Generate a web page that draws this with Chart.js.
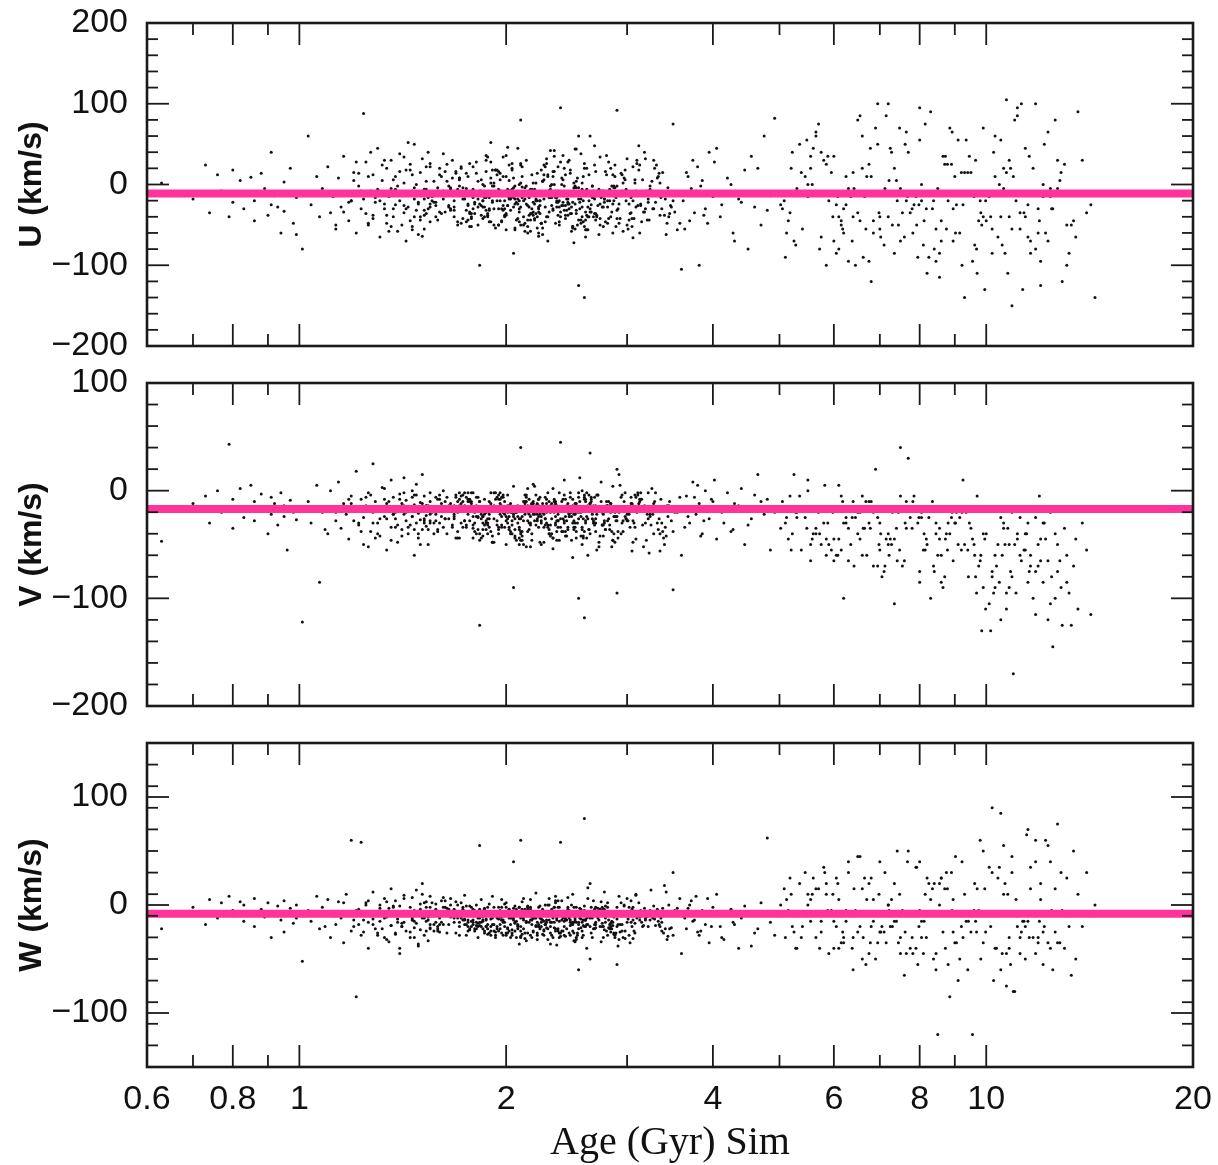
<!DOCTYPE html>
<html>
<head>
<meta charset="utf-8">
<script src="https://cdn.jsdelivr.net/npm/chart.js@4.4.1/dist/chart.umd.min.js"></script>
<style>
  body { margin: 0; background: #fff; }
  #wrap { position: relative; width: 1218px; height: 1165px; }
  .panel { position: absolute; left: 0; width: 1218px; }
</style>
</head>
<body>
<div id="wrap">
  <div class="panel" style="top:0px;height:370px"><canvas id="panelU"></canvas></div>
  <div class="panel" style="top:360px;height:370px"><canvas id="panelV"></canvas></div>
  <div class="panel" style="top:720px;height:445px"><canvas id="panelW"></canvas></div>
</div>
<script>
// stellar ages (Gyr), one entry per star, shared by the three panels
const ages = [
  // younger than 1 Gyr
  0.63,0.70,0.73,0.74,0.76,0.77,0.79,0.80,0.80,0.82,
  0.83,0.83,0.85,0.86,0.86,0.88,0.89,0.90,0.91,0.91,
  0.92,0.93,0.94,0.95,0.95,0.96,0.97,0.98,0.99,0.99,
  // 1 - 1.5 Gyr
  1.01,1.03,1.04,1.06,1.07,1.08,1.10,1.11,1.12,1.13,
  1.14,1.15,1.16,1.17,1.18,1.19,1.20,1.21,1.22,1.23,
  1.24,1.24,1.25,1.26,1.27,1.28,1.28,1.29,1.30,1.31,
  1.31,1.32,1.33,1.34,1.34,1.35,1.36,1.36,1.37,1.38,
  1.38,1.39,1.40,1.40,1.41,1.42,1.42,1.43,1.43,1.44,
  1.45,1.45,1.46,1.46,1.47,1.47,1.48,1.48,1.49,1.49,
  1.50,1.50,1.51,1.51,1.52,1.52,1.53,1.53,1.54,1.54,
  1.18,1.22,1.26,1.30,1.33,1.37,1.41,1.44,1.47,1.52,
  1.20,1.25,1.29,1.32,1.35,1.39,1.42,1.46,1.50,1.53,
  1.16,1.23,1.27,1.31,1.36,1.40,1.43,1.47,1.51,1.55,
  1.09,1.21,1.28,1.33,1.37,1.41,1.45,1.48,1.52,1.55,
  1.13,1.19,1.26,1.34,1.38,1.42,1.46,1.49,1.53,1.55,
  // 1.5 - 3.6 Gyr (dense part)
  1.56,1.72,1.88,2.02,2.15,2.31,2.47,2.66,2.90,3.21,
  1.61,1.79,1.93,2.08,2.24,2.39,2.58,2.78,3.04,3.38,
  1.58,1.75,1.91,2.05,2.19,2.35,2.52,2.71,2.97,3.30,
  1.64,1.82,1.97,2.11,2.27,2.43,2.61,2.84,3.09,3.47,
  1.59,1.77,1.90,2.03,2.17,2.33,2.50,2.69,2.93,3.25,
  1.66,1.84,1.99,2.13,2.29,2.45,2.63,2.87,3.13,3.52,
  1.62,1.80,1.95,2.09,2.22,2.37,2.55,2.75,3.01,3.35,
  1.68,1.86,2.00,2.14,2.30,2.48,2.67,2.91,3.18,3.58,
  1.57,1.74,1.89,2.04,2.20,2.36,2.54,2.73,2.99,3.28,
  1.70,1.87,2.01,2.16,2.32,2.49,2.68,2.95,3.23,3.44,
  1.60,1.78,1.92,2.06,2.21,2.38,2.56,2.77,3.06,3.33,
  1.65,1.83,1.98,2.12,2.26,2.42,2.60,2.82,3.11,3.40,
  1.73,1.89,2.02,2.18,2.34,2.51,2.70,2.92,3.16,3.55,
  1.63,1.81,1.96,2.10,2.25,2.41,2.59,2.80,3.07,3.36,
  1.69,1.85,2.00,2.15,2.28,2.44,2.62,2.85,3.12,3.48,
  1.76,1.91,2.04,2.19,2.36,2.53,2.72,2.96,3.20,3.31,
  1.67,1.82,1.97,2.12,2.27,2.46,2.64,2.88,3.14,3.42,
  1.74,1.90,2.03,2.17,2.33,2.50,2.69,2.89,3.03,3.26,
  1.58,1.78,1.94,2.09,2.23,2.40,2.57,2.79,3.08,3.37,
  1.71,1.86,1.99,2.14,2.31,2.47,2.65,2.86,3.10,3.50,
  1.80,1.93,2.07,2.20,2.35,2.52,2.74,2.98,3.22,3.45,
  1.66,1.84,2.01,2.16,2.29,2.44,2.61,2.81,3.05,3.29,
  1.77,1.92,2.06,2.21,2.37,2.55,2.76,3.00,3.19,3.39,
  1.62,1.79,1.95,2.11,2.26,2.43,2.58,2.74,2.94,3.15,
  1.85,1.98,2.13,2.28,2.42,2.57,2.71,2.83,3.02,3.32,
  1.69,1.87,2.05,2.18,2.32,2.46,2.62,2.78,2.97,3.17,
  1.81,1.96,2.10,2.24,2.39,2.53,2.67,2.90,3.12,3.41,
  1.75,1.88,2.02,2.23,2.38,2.49,2.64,2.84,3.06,3.24,
  1.90,2.00,2.14,2.25,2.40,2.56,2.70,2.87,3.09,3.34,
  1.83,1.97,2.08,2.22,2.34,2.48,2.60,2.76,2.92,3.14,
  1.53,1.68,1.81,1.94,2.07,2.19,2.33,2.46,2.62,2.81,
  1.55,1.71,1.85,1.97,2.10,2.23,2.36,2.50,2.67,2.86,
  1.60,1.73,1.86,2.00,2.12,2.25,2.38,2.53,2.70,2.94,
  1.52,1.66,1.79,1.92,2.05,2.17,2.30,2.44,2.59,2.77,
  1.57,1.70,1.83,1.96,2.09,2.21,2.35,2.49,2.65,2.89,
  1.63,1.76,1.88,2.01,2.14,2.27,2.40,2.55,2.73,3.02,
  1.54,1.69,1.82,1.95,2.08,2.20,2.34,2.48,2.63,2.83,
  1.65,1.78,1.91,2.04,2.16,2.29,2.42,2.57,2.75,3.10,
  1.59,1.72,1.84,1.98,2.11,2.24,2.37,2.51,2.68,2.91,
  1.67,1.80,1.93,2.06,2.18,2.31,2.44,2.60,2.79,3.18,
  1.56,1.70,1.87,1.99,2.13,2.26,2.39,2.54,2.72,2.98,
  1.61,1.75,1.89,2.03,2.15,2.28,2.41,2.56,2.74,3.05,
  1.64,1.77,1.90,2.02,2.17,2.30,2.45,2.58,2.76,3.13,
  1.58,1.74,1.86,2.00,2.12,2.26,2.40,2.53,2.70,2.96,
  1.70,1.82,1.95,2.08,2.20,2.33,2.47,2.62,2.80,3.22,
  1.55,1.68,1.83,1.97,2.10,2.23,2.38,2.52,2.69,2.88,
  1.72,1.85,1.98,2.11,2.23,2.36,2.50,2.64,2.85,3.27,
  1.62,1.76,1.88,2.05,2.18,2.31,2.43,2.57,2.78,3.00,
  1.66,1.79,1.92,2.06,2.19,2.34,2.48,2.63,2.82,3.08,
  1.74,1.87,2.01,2.13,2.25,2.39,2.53,2.68,2.88,3.35,
  1.59,1.73,1.85,1.99,2.14,2.28,2.42,2.59,2.77,3.04,
  1.68,1.81,1.94,2.07,2.21,2.35,2.49,2.66,2.86,3.19,
  1.76,1.89,2.02,2.15,2.27,2.41,2.55,2.71,2.93,3.43,
  1.57,1.71,1.84,1.96,2.09,2.22,2.37,2.51,2.66,2.84,
  1.78,1.91,2.04,2.16,2.29,2.43,2.58,2.74,2.95,3.28,
  1.63,1.77,1.90,2.03,2.17,2.32,2.46,2.61,2.79,3.11,
  1.71,1.84,1.97,2.10,2.24,2.38,2.52,2.69,2.90,3.37,
  1.60,1.75,1.87,2.01,2.15,2.30,2.45,2.60,2.81,3.06,
  1.79,1.93,2.06,2.19,2.32,2.46,2.61,2.77,2.99,3.46,
  1.65,1.80,1.95,2.09,2.22,2.36,2.51,2.65,2.87,3.24,
  2.60,2.55,1.83,2.40,2.90,3.50,2.10,3.60,2.05,2.65,
  // 3.6 - 5 Gyr
  3.62,3.66,3.70,3.74,3.78,3.82,3.86,3.90,3.95,4.00,
  3.64,3.72,3.80,3.88,3.98,4.05,4.12,4.20,4.28,4.36,
  3.68,3.76,3.84,3.93,4.02,4.15,4.30,4.45,4.60,4.75,
  4.10,4.25,4.40,4.55,4.70,4.85,4.92,4.50,4.65,4.80,
  // 5 - 14.5 Gyr
  5.05,5.60,6.10,6.70,7.30,8.00,8.80,9.70,10.8,12.2,
  5.20,5.75,6.30,6.90,7.55,8.25,9.10,10.1,11.3,12.8,
  5.10,5.50,6.00,6.55,7.15,7.85,8.60,9.50,10.5,11.8,
  5.35,5.90,6.45,7.05,7.70,8.45,9.30,10.3,11.5,13.2,
  5.15,5.70,6.20,6.80,7.40,8.10,8.90,9.85,11.0,12.4,
  5.45,6.05,6.60,7.20,7.90,8.65,9.55,10.6,11.9,13.6,
  5.25,5.80,6.35,6.95,7.60,8.35,9.20,10.2,11.4,12.9,
  5.55,6.15,6.75,7.35,8.05,8.85,9.75,10.9,12.1,14.0,
  5.30,5.85,6.40,7.00,7.65,8.40,9.25,10.25,11.6,13.0,
  5.65,6.25,6.85,7.50,8.20,9.00,9.90,11.1,12.5,14.4,
  5.40,5.95,6.50,7.10,7.75,8.50,9.35,10.4,11.7,13.4,
  5.02,6.40,7.25,7.95,8.70,9.60,10.7,11.2,12.0,12.6,
  5.75,6.65,7.45,8.15,8.95,9.80,10.0,10.95,11.8,13.8,
  5.50,6.00,6.60,7.80,8.30,9.15,10.45,11.35,12.3,13.1,
  6.20,6.95,7.65,8.55,9.40,10.15,10.75,11.55,12.7,14.2,
  5.85,6.50,7.20,7.90,8.75,9.65,10.55,11.05,12.15,13.5,
  5.30,6.30,7.00,8.00,9.05,9.95,10.85,11.45,11.95,12.85,
  6.10,6.80,7.50,8.60,9.45,10.35,10.65,11.25,12.45,13.3,
  5.08,5.65,6.15,6.75,7.35,8.05,8.95,9.90,10.9,12.1,
  5.22,5.82,6.38,6.98,7.62,8.38,9.22,10.3,11.4,12.6,
  5.12,5.55,6.05,6.62,7.22,7.92,8.72,9.62,10.7,11.9,
  5.38,5.98,6.55,7.12,7.82,8.55,9.42,10.5,11.6,13.1,
  5.18,5.72,6.25,6.85,7.48,8.18,9.02,9.98,11.1,12.3,
  5.48,6.08,6.68,7.28,7.98,8.78,9.68,10.8,11.8,12.7,
  5.28,5.88,6.42,7.02,7.68,8.45,9.30,10.2,11.2,12.0,
  5.58,6.18,6.78,7.42,8.12,8.92,9.82,10.6,11.5,12.4
];

// U velocity (km/s)
const uVel = [
  2,-18,24,-35,12,-8,-40,18,-22,5,
  -30,-12,9,-45,-20,14,-5,-38,-25,40,
  -14,-28,-60,3,-33,-9,20,-48,-16,-62,

  -80,60,-25,10,-40,-5,22,-35,-15,-55,
  8,-28,35,-10,-45,-20,15,-60,-2,-30,
  88,-18,28,-50,-8,12,-38,-22,45,-12,
  -65,5,-30,20,-48,-15,30,-5,-40,-25,
  10,-58,-20,38,-10,-35,2,-70,18,-28,
  -45,25,-8,-52,-18,50,-32,0,-24,-62,
  15,-40,-12,32,-55,-6,22,-36,-16,40,
  -22,14,-48,-6,30,-30,-12,52,-40,-18,
  5,-36,-16,24,-58,-2,-26,12,-44,-10,
  -34,-8,40,-20,-52,16,-30,-4,-64,26,
  -12,28,-42,-24,6,-50,18,-14,-32,-46,
  -50,-20,10,-38,-6,34,-56,-22,4,-28,

  -15,22,-38,5,-60,-8,30,-25,-2,-44,
  10,-30,-12,45,-20,-50,2,-18,-35,15,
  -40,-5,18,-28,-10,35,-55,-14,8,-22,
  25,-18,-45,-3,12,-32,-65,20,-8,-26,
  -8,-52,28,-16,-36,0,-22,48,-42,-12,
  -30,6,-20,-58,32,-10,-40,-4,24,-34,
  38,-24,-6,-46,14,-28,60,-15,-55,2,
  -20,-40,10,-12,-70,18,-2,-30,40,-48,
  4,-14,-32,26,-24,-48,8,-62,-20,30,
  -50,16,-26,-8,42,-36,-16,12,-44,-4,
  20,-36,-2,-54,-18,22,-30,-10,-66,10,
  -26,-10,34,-40,4,-22,-52,28,-14,-38,
  -4,-46,-18,12,-30,-72,16,-24,6,-56,
  -34,28,-8,-28,-48,8,-20,36,-42,-16,
  14,-20,-56,-14,22,-38,-6,-34,18,-28,
  -44,-2,20,-34,-12,44,-26,-58,-8,24,
  30,-28,-14,-50,6,-18,-40,10,-24,-62,
  -12,52,-32,-6,-26,-52,24,-16,-36,4,
  -22,-42,12,-20,-64,-14,38,-46,2,-30,
  8,-16,-38,30,-8,-30,-12,-60,26,-20,
  -36,18,-10,-44,16,-24,-50,6,-18,-40,
  -6,-26,46,-16,-40,12,-34,-20,-52,20,
  26,-50,-18,2,-22,-44,-8,32,-30,-10,
  -18,-6,-30,22,-54,-2,-28,-42,14,-46,
  -28,10,-48,-12,36,-18,-38,-6,-24,8,
  16,-32,-4,-36,-16,28,-56,-22,-12,-34,
  -10,-20,24,-26,-46,-4,-16,-32,48,-18,
  -32,34,-16,-60,-8,-28,12,-40,-20,-6,
  2,-38,-24,18,-34,-12,-44,-2,-28,14,
  -24,-12,-42,-20,10,-36,20,-14,-48,-26,
  -6,-32,14,-20,-44,2,-16,-38,20,-28,
  -24,8,-42,-12,26,-34,-8,-54,-2,12,
  12,-18,-28,36,-10,-48,-22,4,-36,-14,
  -38,-4,22,-30,-16,-58,10,-26,-46,-8,
  -14,-46,-8,6,-34,-20,42,-12,-30,-52,
  16,-26,-36,-14,-2,24,-40,-18,-6,-44,
  -30,-10,4,-50,-24,-6,-32,14,-56,-20,
  -2,-40,-22,18,-38,-12,6,-48,-16,30,
  -44,20,-14,-26,10,-36,-20,-4,-40,-12,
  8,-22,-54,-2,-30,-16,-42,26,-10,-34,
  -20,-6,30,-40,-18,4,-28,-50,-8,18,
  -36,14,-16,-8,-52,-28,0,-22,34,-42,
  4,-34,-46,24,-12,-40,-18,-6,-28,-60,
  -26,-14,-2,-36,-20,-62,28,-32,-14,2,
  -10,-50,16,-18,-42,-8,-24,-38,12,-22,
  22,-28,-10,-46,2,-30,-14,44,-36,-4,
  -48,0,-32,-16,-28,-10,-52,-20,-2,-30,
  -8,-24,-40,8,-6,-34,20,-44,-18,-50,
  -32,-16,2,-56,-22,16,-12,-28,-42,6,
  -18,36,-26,-4,-48,-20,-36,-8,24,-38,
  -4,-42,-20,-30,-10,-46,-26,10,-52,-16,
  -40,-12,18,-22,-36,0,-58,-14,-24,32,
  10,-30,-8,-44,-18,-26,-4,-40,-12,-48,
  -22,-2,-38,14,-30,-54,-16,2,-34,-10,
  -52,-20,-6,-28,26,-14,-40,-24,-8,-30,
  -14,-36,8,-18,-44,-6,-22,-56,16,-26,
  6,-8,-30,-50,-20,-38,-2,-18,-42,-12,
  -34,-46,-16,-6,-26,12,-32,-10,-48,22,
  -12,18,-24,-38,-2,-24,-44,-28,-6,-36,
  -28,-10,-50,0,-40,-16,-8,-34,-20,-2,
  -140,-125,-100,95,92,75,80,-105,-85,60,

  -20,15,-45,30,-8,-100,5,-30,40,-15,
  -55,-5,22,-38,-12,45,-25,8,-60,-18,
  10,-35,-2,-48,28,-10,-70,18,-28,60,
  -40,0,-22,35,-50,-14,82,-80,20,-32,

  -30,45,-80,10,-50,95,-20,-110,30,-60,
  20,-65,-5,70,-35,-90,55,-15,-130,5,
  -90,0,35,-45,85,-25,-70,15,-40,100,
  50,-20,-100,-10,40,-55,-140,60,-25,-85,
  -45,75,-30,-120,5,-75,25,-50,80,-15,
  10,-85,60,-40,-10,35,-95,-5,-60,90,
  -70,30,-15,100,-65,-30,15,-85,45,-120,
  35,-50,-95,20,-20,70,-45,-150,0,-35,
  -10,-100,15,-55,65,-80,-25,40,-70,25,
  65,-25,-60,-5,-110,10,-40,85,-30,-140,
  -55,15,80,-75,-35,-5,55,-65,20,-45,
  -25,-40,45,-90,25,-15,105,-55,-95,-10,
  40,-15,-50,75,-70,-20,-45,10,-80,30,
  -15,-70,20,-30,90,-60,0,-35,65,-100,
  -60,50,-20,-85,15,-40,-110,35,-5,-25,
  25,-35,100,-15,-55,30,-75,-20,50,-65,
  -5,-95,-40,55,-25,-130,20,-10,-45,15,
  -40,10,-70,-45,35,-10,-85,100,-30,-50,
  -20,60,-45,25,-85,0,-30,70,-55,-15,
  40,-10,-70,-35,50,-20,-100,10,-40,80,
  -60,20,-25,-90,5,-50,35,-75,15,-30,
  15,-40,85,-5,-60,-115,-10,55,-85,-50,
  -35,-80,10,-45,70,-30,-60,-20,95,-70,
  55,-15,-55,40,-25,25,-80,-40,-10,30,
  -75,35,-5,-65,-15,-95,15,-55,-35,-125,
  0,-55,45,-20,-45,65,-35,20,-65,-5
];

// V velocity (km/s)
const vVel = [
  -47,-12,-5,-30,0,-20,43,-8,-35,2,
  -15,-25,5,-10,-28,-3,-18,-40,-22,-6,
  -12,-32,-2,-24,-14,-55,-9,-20,-27,-16,

  -122,-10,-30,5,-85,-20,-40,0,-15,-28,
  8,-35,-12,-22,-45,-5,-18,18,-32,-8,
  -25,-50,-14,-2,-38,-20,25,-10,-30,-16,
  -42,3,-24,-12,-55,-18,10,-34,-6,-26,
  -20,-48,-15,-3,-36,-22,12,-28,-9,-40,
  -17,-32,0,-24,-60,-13,-30,6,-21,-44,
  -11,-27,15,-36,-19,-5,-33,-23,-50,-14,
  -8,-30,-16,-40,2,-22,-12,-34,-4,-26,
  -28,-6,-44,-18,-10,-32,-2,-24,-50,-14,
  -14,-38,-4,-26,-46,-8,-20,-36,-12,-30,
  -36,-18,-30,-8,-22,-42,-16,-4,-28,-10,
  -20,-12,-52,-26,-34,-14,-6,-40,-18,-2,

  -20,-5,-32,-14,2,-40,-18,-10,-28,-22,
  -12,-35,-8,-24,-48,-16,0,-30,-6,-38,
  -28,-15,-42,4,-20,-10,-34,-55,-18,-2,
  -6,-25,-14,-38,-22,10,-30,-12,-45,-16,
  -36,-10,-2,-20,-52,-26,-8,-18,5,-32,
  -16,-44,-22,-4,-30,-14,-60,-24,-10,-20,
  0,-18,-36,-26,-12,-46,-20,8,-28,-40,
  -24,-8,-50,-16,-34,-2,-22,-38,-14,-6,
  -40,-28,-10,-32,4,-24,-16,-48,-26,-12,
  -10,-36,-20,-8,-42,-18,-30,-4,-58,-24,
  -30,-2,-26,-44,-16,-34,12,-22,-14,-36,
  -18,-46,-6,-28,-20,-8,-38,-26,-2,-50,
  -4,-22,-34,-12,-54,-28,-14,15,-32,-20,
  -26,-14,-2,-40,-24,-16,-44,-10,-30,-8,
  -44,-30,-16,-20,-6,-38,-24,-52,-12,-28,
  -8,-18,-40,6,-32,-20,-4,-28,-46,-16,
  -34,-6,-24,-16,-48,-12,-36,-20,-8,-42,
  -14,-38,-12,-30,-18,-62,-6,-24,-34,2,
  -22,-10,-28,-50,-14,-26,-42,-16,-4,-30,
  -2,-32,-18,-10,-36,-22,-12,-46,-20,-38,
  -38,-16,-46,-22,-8,-30,-18,-2,-26,-14,
  -12,-26,-4,-36,-20,-42,-28,-14,-56,-10,
  -28,-48,-20,-14,-38,-6,-32,-22,-16,-44,
  -16,-2,-34,-24,-12,-28,-50,-18,-40,-8,
  -42,-20,-10,-32,-26,-16,-4,-36,-22,-30,
  -6,-30,-22,-46,-14,-34,-18,-28,-10,-52,
  -24,-12,-38,-18,-2,-44,-26,20,-14,-34,
  -32,-40,-16,-8,-28,-20,-36,-12,-48,-22,
  -18,-24,-52,-30,-16,-10,-30,-40,-6,-26,
  -10,-34,-14,-26,-44,-18,-8,-32,-20,-2,
  -14,-26,-6,-32,-20,-10,-40,-18,-2,-28,
  -22,-8,-36,-16,-46,-24,-12,-30,-20,4,
  -4,-34,-18,-28,-10,-50,-22,-14,-38,-6,
  -30,-16,-44,-2,-24,-14,-32,-8,-26,-42,
  -18,-38,-10,-22,-36,-4,-20,-46,-12,-28,
  -10,-22,-30,-14,-6,-34,-16,-26,-52,-20,
  -36,-4,-24,-40,-18,-28,2,-20,-14,-32,
  -26,-12,-48,-20,-30,-8,-38,-24,-10,-16,
  -8,-30,-16,-4,-42,-22,-14,-34,-28,-44,
  -32,-20,-2,-26,-12,-40,-24,-6,-36,-18,
  -16,-44,-28,-10,-22,-16,-46,-30,-4,-24,
  -24,-6,-34,-38,-14,-26,-10,-18,-42,-12,
  -40,-18,-12,-24,-32,-2,-28,-36,-20,-8,
  -6,-28,-22,-16,-50,-20,-34,-12,-26,-38,
  -20,-36,-8,-30,-18,-12,-24,-44,-14,-2,
  -28,-14,-40,-6,-26,-34,-18,-22,-32,-48,
  -12,-24,-20,-46,-8,-30,-14,-4,-38,-22,
  -34,-2,-26,-18,-40,-10,-30,-20,-16,-28,
  -18,-32,-14,-36,-22,-44,-6,-26,-10,-34,
  -2,-20,-30,-12,-28,-18,-38,-14,-24,-56,
  -38,-10,-24,-34,-4,-26,-16,-42,-20,-12,
  -22,-40,-6,-20,-32,-14,-24,-8,-46,-30,
  -10,-26,-36,-28,-16,-38,-2,-22,-18,-14,
  -30,-14,-18,-8,-44,-22,-28,-36,-6,-20,
  -16,-48,-28,-22,-12,-4,-34,-18,-30,-40,
  -26,-8,-14,-40,-24,-32,-20,-10,-36,-4,
  -44,-22,-32,-16,-6,-28,-12,-30,-24,-18,
  -8,-34,-20,-26,-38,-16,-42,-4,-14,-28,
  -24,-16,-42,-12,-20,-36,-8,-32,-26,-10,
  -14,-30,-4,-34,-28,-10,-22,-40,-16,-24,
  -118,-100,-125,45,-95,-92,40,-60,-90,35,

  -18,-5,-30,8,-22,-12,-40,0,-26,-10,
  -34,-16,5,-28,-8,-45,-20,-2,-36,-14,
  -24,-6,-42,-18,10,-30,-12,-50,-4,-22,
  -16,-38,2,-26,-10,-55,-20,-32,15,-8,

  -10,-40,5,-60,-20,-75,-30,-5,-90,-45,
  -55,-15,-35,20,-70,-25,-50,-105,-15,-65,
  -30,10,-65,-20,-45,-5,-85,-35,-120,-25,
  -5,-50,-25,-80,30,-40,-15,-60,-30,-95,
  -45,-20,-100,-10,-35,-55,-25,-130,-50,-20,
  -25,-60,-5,-40,-15,-90,-45,-30,-70,-110,
  15,-30,-50,-25,-65,-10,-55,-80,-40,-125,
  -65,-5,-30,-105,-20,-40,-70,-20,-85,-55,
  -20,-45,-15,-55,-35,-75,10,-95,-60,-35,
  -40,-25,-70,-5,-50,-30,-90,-45,-145,-15,
  -15,-55,-40,-75,-25,-60,-20,-50,-100,-70,
  -35,-10,-45,-30,-80,-50,-110,-25,-65,-40,
  -50,-35,-20,-55,-15,-65,-40,-170,-75,-30,
  0,-45,-60,-35,-100,-25,-85,-55,-120,-60,
  -30,-70,-10,-45,-55,-130,-35,-75,-50,-115,
  -60,-20,-50,-15,-40,-80,-60,-95,-30,-45,
  -25,-65,-30,-85,-20,-45,-75,-40,-5,-90,
  -45,-15,40,-60,-30,-70,-50,-65,-80,-125,
  -15,-35,-55,-10,-45,-25,-65,-40,-80,-30,
  -40,5,-25,-50,-30,-70,-20,-90,-55,-100,
  -25,-50,-15,-35,-60,-15,-45,-60,-95,-50,
  -55,-20,-45,-70,-10,-35,-80,-25,-70,-85,
  -5,-40,-30,-20,-55,-45,-30,-110,-40,-65,
  -35,-60,-10,-50,-25,-55,-95,-50,-115,-75,
  -20,-30,-70,-40,-15,-30,-50,-75,-60,-45,
  -45,-10,-35,-65,-40,-20,-60,-35,-85,-105
];

// W velocity (km/s)
const wVel = [
  -22,-2,-18,5,-12,2,8,-10,-5,3,
  -15,0,-8,6,-20,-4,-11,2,-30,-6,
  -9,-1,-14,4,-25,-7,-3,-17,0,-12,

  -52,-5,-15,8,-22,-2,5,-30,-10,-18,
  3,-12,-35,10,-8,60,-20,-85,-4,58,
  -25,-14,2,-40,-9,12,-18,-6,-28,0,
  -15,-22,6,-11,-32,-3,15,-19,-8,-26,
  4,-13,-45,-1,-20,9,-16,-7,-24,-10,
  -2,-30,7,-14,-21,-5,14,-17,-38,-9,
  1,-23,-12,20,-28,-6,-15,3,-33,-11,
  -6,-18,4,-26,-12,-2,-20,-9,-30,2,
  -14,0,-22,-8,-34,-16,6,-12,-4,-24,
  2,-28,-10,-3,-19,-40,-7,-15,10,-21,
  -20,-5,-13,-30,-1,-17,-25,-6,-11,8,
  -10,-24,-16,3,-27,-8,-14,-36,-2,-18,

  -10,2,-18,-4,-26,6,-12,-2,-20,-8,
  4,-14,-6,-22,-1,-30,-9,12,-16,-3,
  -16,-7,8,-12,-24,-2,-34,-10,0,-19,
  -3,-20,-11,3,-15,-28,-6,-17,10,-8,
  -22,-1,-13,-30,5,-10,-18,-4,-25,14,
  -6,-16,1,-9,-21,-14,16,-27,-11,-5,
  7,-24,-10,-2,-32,-7,-16,3,-13,-20,
  -12,-4,-28,-15,0,-19,-8,-38,-3,6,
  -18,9,-7,-23,-12,2,-26,-14,-6,-1,
  0,-13,-21,-5,-36,-10,4,-18,-9,-29,
  -25,-8,-2,-17,11,-22,-12,-4,-31,-15,
  -4,-19,-14,6,-27,-6,-1,-21,-10,18,
  -14,1,-24,-11,-7,-33,-16,8,-20,-3,
  -9,-22,-5,-29,-13,4,-19,-8,-24,-12,
  3,-11,-26,-1,-18,-9,-40,-15,2,-21,
  -20,-6,-12,-25,8,-16,-3,-30,-11,-7,
  -7,-17,5,-14,-23,-2,-11,-27,-5,12,
  -13,-28,-9,-4,-16,10,-22,-6,-35,-10,
  1,-15,-20,-8,-2,-26,-13,-1,-17,-24,
  -16,-3,-10,-33,-14,-5,20,-19,-8,-28,
  -5,-25,-15,-7,-21,-12,-4,-31,-9,0,
  -11,5,-22,-16,-6,-29,-14,-2,-20,-13,
  -23,-9,-1,-19,-37,-8,-17,6,-12,-26,
  -2,-18,-13,-27,-4,-15,-24,-10,2,-16,
  -15,-6,-31,0,-12,-21,-7,-18,-28,-4,
  -8,-20,-3,-14,-26,7,-10,-23,-1,-19,
  -19,-11,-24,-6,-15,-2,-30,-13,-8,-22,
  -1,-27,-12,-20,4,-17,-9,-25,-14,-5,
  -24,-7,-16,-10,-29,-3,-21,-11,9,-18,
  -12,-2,-19,-26,-8,-14,-5,-20,-32,-9,
  -8,-16,0,-22,-4,-12,-28,-6,-18,2,
  -2,-20,-10,-14,-30,-6,4,-24,-12,-16,
  -18,-4,-26,2,-12,-20,-8,-32,-2,-10,
  -12,6,-16,-24,-8,-2,-22,-14,-28,-6,
  -24,-10,-4,-18,-36,-12,-16,0,-20,-26,
  4,-14,-22,-8,-16,-28,-6,-18,-10,-2,
  -14,-26,-12,-2,-20,-8,-30,-16,6,-22,
  -6,-2,-18,-28,-10,-16,-24,-4,-34,-12,
  -20,-12,-8,-16,-4,-22,-14,-26,-6,-18,
  -10,-22,-30,-6,-18,0,-12,-20,-16,-8,
  2,-8,-14,-20,-26,-10,-2,-28,-12,-24,
  -16,-28,-6,-12,-2,-18,-24,-8,-20,-4,
  -26,-6,-20,-10,-14,-32,-10,-16,-2,-14,
  -4,-18,-24,-2,-22,-14,-8,-30,-18,-10,
  -12,-30,-10,-18,-8,-4,-26,-12,-24,-20,
  -22,-4,-16,-26,-12,-20,-2,-14,-8,-28,
  -8,-14,-28,-6,-18,-24,-16,-6,-22,-12,
  -18,-24,-2,-14,-30,-8,-20,-10,-4,-16,
  0,-10,-18,-24,-6,-12,-28,-18,-14,-26,
  -14,-20,-8,-4,-16,-26,-10,-22,-30,-6,
  -24,-2,-22,-16,-10,-18,-6,-14,-20,4,
  -6,-16,-12,-30,-20,-2,-18,-26,-10,-14,
  -16,-26,-4,-10,-24,-14,-22,-8,-18,-32,
  -10,-8,-20,-22,-2,-28,-12,-16,-6,-20,
  -20,-12,-26,-8,-14,-6,-30,-4,-24,-10,
  -2,-22,-10,-18,-28,-16,-4,-20,-12,-8,
  -28,-6,-14,-20,-12,-24,-8,-18,-2,-16,
  -12,-18,-6,-26,-4,-10,-22,-14,-28,-2,
  -4,-28,-16,-12,-20,-8,-14,-30,-10,-22,
  -18,-10,-24,-6,-16,-22,-2,-12,-26,-14,
  80,-60,55,58,-55,30,60,-45,40,-50,

  -10,-22,0,-15,8,-28,-5,-18,-35,-2,
  -12,4,-25,-8,-20,10,-30,-6,-16,-40,
  -3,-14,-24,6,-10,-32,-18,-1,-26,-9,
  -20,-4,-12,-38,2,-16,-28,-7,-22,62,

  -10,25,-40,5,-20,40,-55,15,-30,60,
  10,-25,30,-50,-5,20,-70,35,-15,-35,
  -30,0,-15,45,-35,-10,25,-25,85,-45,
  20,-45,-5,-20,50,-60,10,-40,70,-20,
  -5,15,-30,25,-15,-45,30,-10,-80,40,
  30,-20,-50,0,35,-25,-120,55,-35,10,
  -25,35,-10,-35,-65,15,-20,90,-50,-5,
  5,-35,20,-15,-30,-85,-5,45,-25,30,
  -40,10,-60,40,-10,20,-30,-70,15,-40,
  15,-15,5,-45,25,-35,50,-20,-60,0,
  -20,-5,45,-25,-40,-120,-15,25,-30,50,
  0,-30,-20,-55,15,-5,-75,-45,20,-25,
  -15,25,-35,10,-25,60,-10,-80,40,-20,
  10,-40,15,-30,5,-50,35,-15,-35,25,
  -35,-10,-45,20,-60,-20,10,-30,75,-10,
  20,-25,0,-40,30,-15,-45,5,-20,-50,
  -10,40,-25,-5,-35,15,-55,65,-15,30,
  5,-20,-30,25,-10,-40,20,-25,-5,-65,
  15,-30,-10,-45,20,-15,5,-35,30,-55,
  -20,30,-40,10,-25,-50,40,-10,-20,15,
  5,-15,25,-30,-5,35,-40,20,-45,-30,
  -30,10,-20,30,-45,0,-15,-60,35,-10,
  25,-40,-5,-15,10,-30,45,-25,-10,55,
  -10,20,-55,5,-20,15,-25,-40,60,-35,
  -40,-5,15,-25,40,-45,-10,30,-30,5,
  10,-25,-35,50,-15,-5,-50,10,-15,-40
];

// mean velocity drawn as the pink line in each panel
const meanVel = [-11, -17, -8];

const ageTicks = [0.6, 0.8, 1, 2, 4, 6, 8, 10, 20];
const ageMinorTicks = [0.7, 0.9, 3, 5, 7, 9];

const uTicks = [-200, -100, 0, 100, 200];
const vTicks = [-200, -100, 0, 100];
const wTicks = [-100, 0, 100];

const pink = '#ff3399';
const ink = '#111111';

function steps(from, to, step) {
  const out = [];
  for (let v = from; v <= to + 1e-9; v += step) out.push(v);
  return out;
}

// frame box with inward ticks on all four sides
const frameTicks = {
  id: 'frameTicks',
  afterDatasetsDraw(chart, args, opts) {
    const { ctx, chartArea: a, scales: { x, y } } = chart;
    const line = (x1, y1, x2, y2) => {
      ctx.beginPath(); ctx.moveTo(x1, y1); ctx.lineTo(x2, y2); ctx.stroke();
    };
    ctx.save();
    ctx.strokeStyle = '#1a1a1a';
    ctx.lineWidth = 1.8;
    opts.yMajor.forEach(v => {
      const p = y.getPixelForValue(v);
      line(a.left, p, a.left + 22, p); line(a.right, p, a.right - 22, p);
    });
    opts.yMinor.forEach(v => {
      const p = y.getPixelForValue(v);
      line(a.left, p, a.left + 11, p); line(a.right, p, a.right - 11, p);
    });
    ageTicks.forEach(v => {
      const p = x.getPixelForValue(v);
      line(p, a.top, p, a.top + 22); line(p, a.bottom, p, a.bottom - 22);
    });
    ageMinorTicks.forEach(v => {
      const p = x.getPixelForValue(v);
      line(p, a.top, p, a.top + 12); line(p, a.bottom, p, a.bottom - 12);
    });
    ctx.lineWidth = 2.6;
    ctx.strokeRect(a.left, a.top, a.right - a.left, a.bottom - a.top);
    ctx.restore();
  }
};

const tickFont = { family: "'Liberation Sans', Arial, sans-serif", size: 34 };
const fmt = v => (v < 0 ? '\u2212' + Math.abs(v) : String(v));

function drawPanel(id, vel, mean, yMin, yMax, yTicks, title, bottom) {
  new Chart(document.getElementById(id), {
    type: 'scatter',
    data: {
      datasets: [
        {
          type: 'line',
          data: [{ x: 0.6, y: mean }, { x: 20, y: mean }],
          borderColor: pink, borderWidth: 8, pointRadius: 0, order: 0
        },
        {
          data: ages.map((a, i) => ({ x: a, y: vel[i] })),
          pointRadius: 1.5, backgroundColor: ink, borderWidth: 0, order: 1
        }
      ]
    },
    options: {
      responsive: true,
      maintainAspectRatio: false,
      animation: false,
      layout: { padding: { top: 23, right: 25, bottom: bottom ? 0 : 24, left: 0 } },
      plugins: {
        legend: { display: false },
        tooltip: { enabled: false },
        frameTicks: { yMajor: yTicks, yMinor: steps(yMin + 20, yMax - 20, 20).filter(v => v % 100 !== 0) }
      },
      scales: {
        x: {
          type: 'logarithmic', min: 0.6, max: 20, display: bottom,
          grid: { display: false, drawTicks: false }, border: { display: false },
          afterBuildTicks: s => { s.ticks = ageTicks.map(v => ({ value: v })); },
          afterFit: s => {
            s.height = bottom ? 98 : 0;
            s.paddingLeft = 0; s.paddingRight = 0;
          },
          ticks: { padding: 12, autoSkip: false, maxRotation: 0, font: tickFont, color: ink, callback: v => String(v) },
          title: {
            display: true, text: 'Age (Gyr) Sim', color: ink,
            font: { family: "'Liberation Serif', 'Times New Roman', serif", size: 40, lineHeight: 1.1 },
            padding: { top: 0, bottom: 0 }
          }
        },
        y: {
          min: yMin, max: yMax,
          grid: { display: false, drawTicks: false }, border: { display: false },
          afterBuildTicks: s => { s.ticks = yTicks.map(v => ({ value: v })); },
          afterFit: s => { s.width = 147; s.paddingTop = 0; s.paddingBottom = 0; },
          ticks: { padding: 19, font: tickFont, color: ink, callback: fmt },
          title: {
            display: true, text: title, color: ink,
            font: { family: "'Liberation Sans', Arial, sans-serif", size: 32, weight: 'bold' },
            padding: { top: 13, bottom: 0 }
          }
        }
      }
    },
    plugins: [frameTicks]
  });
}

drawPanel('panelU', uVel, meanVel[0], -200, 200, uTicks, 'U (km/s)', false);
drawPanel('panelV', vVel, meanVel[1], -200, 100, vTicks, 'V (km/s)', false);
drawPanel('panelW', wVel, meanVel[2], -150, 150, wTicks, 'W (km/s)', true);
</script>
</body>
</html>
